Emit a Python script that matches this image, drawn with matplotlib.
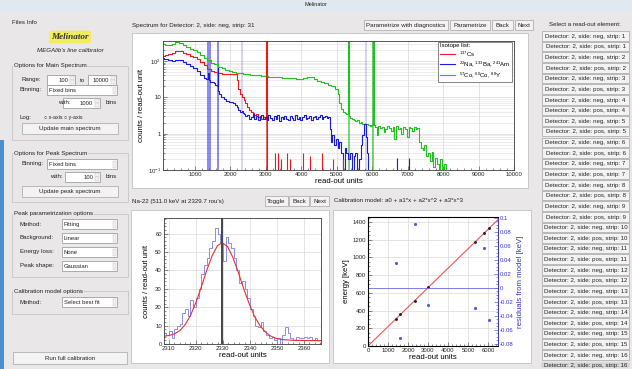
import matplotlib
matplotlib.use("Agg")
import matplotlib.pyplot as plt
from matplotlib.patches import Rectangle
from matplotlib.lines import Line2D
from matplotlib.ticker import (MultipleLocator, FixedLocator, FixedFormatter,
                               NullFormatter, FormatStrFormatter, LogLocator)

plt.rcParams["font.family"] = ["Liberation Sans", "DejaVu Sans"]
plt.rcParams["mathtext.default"] = "regular"

# ---------------- data: main spectrum (read-out units vs counts) ----------------
green_x = [100, 200, 300, 400, 500, 600, 700, 800, 900, 1000,
           1100, 1200, 1300, 1400, 1500, 1600, 1700, 1800, 1900, 2000,
           2100, 2200, 2300, 2400, 2500, 2600, 2700, 2800, 2900, 3000,
           3100, 3200, 3300, 3400, 3500, 3600, 3700, 3800, 3900, 4000,
           4100, 4200, 4300, 4400, 4500, 4600, 4700, 4800, 4900, 5000,
           5050, 5100, 5150, 5200, 5250, 5300, 5330, 5360, 5400, 5450,
           5500, 5550, 5600, 5650, 5700, 5750, 5800, 5850, 5900, 5950,
           6000, 6030, 6060, 6100, 6150, 6200, 6250, 6300, 6350, 6400,
           6450, 6500, 6550, 6600, 6650, 6700, 6750, 6800, 6850, 6900,
           6950, 7000, 7050, 7100, 7150, 7200, 7250, 7300, 7350, 7400,
           7450, 7500, 7550, 7600, 7650, 7700, 7750, 7800, 7850, 7900,
           7950, 8000, 8050, 8100, 8150]
green_y = [285, 270, 278, 292, 335, 310, 272, 242, 218, 196,
           172, 148, 124, 104, 90, 80, 70, 63, 58, 54,
           51, 48, 46, 45, 44, 42, 41, 40, 39, 38,
           37, 36, 36, 35, 34, 34, 33, 33, 32, 32,
           33, 35, 37, 31, 28, 26, 24, 22, 20, 17,
           12, 7, 4.8, 4.0, 3.7, 3.5, 3000, 3.0, 2.7, 2.5,
           2.4, 2.2, 2.3, 2.0, 2.1, 1.9, 1.8, 1.9, 1.7, 1.6,
           1.7, 3000, 1.7, 1.5, 0.9, 1.6, 1.4, 1.5, 1.1, 1.3,
           1.6, 1.4, 1.2, 1.5, 0.7, 1.6, 1.3, 1.4, 1.0, 1.5,
           1.3, 0.8, 1.5, 1.4, 1.2, 1.5, 1.3, 1.4, 0.6, 0.4,
           0.35, 0.5, 0.25, 0.3, 0.18, 0.32, 0.12, 0.22, 0.15, 0,
           0.2, 0, 0.15, 0, 0]

red_x = [100, 200, 300, 400, 500, 600, 700, 800, 900, 1000,
         1100, 1200, 1300, 1400, 1500, 1600, 1700, 1800, 1900, 2000,
         2100, 2150, 2200, 2250, 2300, 2350, 2400, 2450, 2500, 2550,
         2600, 2650, 2700, 2750, 2800, 2850, 2900, 2950, 2990, 3020,
         3050]
red_y = [140, 148, 155, 166, 182, 185, 170, 155, 140, 128,
         110, 92, 75, 60, 53, 49, 46, 45, 44, 44,
         45, 44, 30, 17, 12, 10, 8.5, 7, 5.5, 4.6,
         4.0, 3.6, 3.2, 3.5, 2.8, 3.1, 2.6, 2.9, 2.5, 3000,
         0]
red_spike_x = [3260, 3350, 3440, 3600, 3680, 4060, 4240, 4580, 4900, 5180]
red_spike_y = [0.3, 0.3, 0.2, 0.3, 0.2, 0.3, 0.25, 0.3, 0.2, 0.2]

blue_x = [100, 150, 200, 300, 400, 500, 600, 700, 800, 900,
          1000, 1100, 1200, 1300, 1350, 1380, 1410, 1450, 1500, 1550,
          1600, 1630, 1650, 1670, 1700, 1750, 1800, 1850, 1900, 1950,
          2000, 2050, 2100, 2150, 2200, 2250, 2300, 2330, 2360, 2400,
          2450, 2500, 2550, 2600, 2650, 2700, 2750, 2800, 2850, 2900,
          2950, 3000, 3050, 3100, 3150, 3200, 3250, 3300, 3350, 3400,
          3450, 3500, 3550, 3600, 3650, 3700, 3750, 3800, 3850, 3900,
          3950, 4000, 4050, 4100, 4150, 4200, 4250, 4300, 4350, 4400,
          4450, 4500, 4550, 4600, 4650, 4700, 4750, 4780, 4820, 4860,
          4900, 4950, 5000, 5050, 5100, 5150, 5200, 5250, 5300, 5350,
          5400, 5450, 5500, 5550, 5600, 5650, 5700, 5750, 5800, 5830,
          5860, 5900]
blue_y = [122, 110, 114, 104, 100, 107, 104, 94, 84, 72,
          62, 52, 42, 34, 31, 48, 29, 27, 26, 25,
          22, 20, 62, 15, 12, 10.5, 10, 9, 8, 7.8,
          7.5, 7.2, 6.8, 6.2, 5.5, 4.5, 3.9, 4.2, 3.6, 3.4,
          3.0, 3.3, 2.6, 2.9, 3.4, 2.5, 3.1, 2.4, 2.8, 3.3,
          2.5, 2.9, 2.3, 3.2, 2.7, 2.4, 3.0, 2.6, 3.3, 2.2,
          2.8, 2.5, 3.1, 2.6, 2.3, 3.0, 2.7, 2.4, 3.2, 2.6,
          2.9, 2.4, 2.8, 3.3, 2.5, 2.7, 3.0, 2.4, 2.9, 3.1,
          2.6, 2.8, 3.2, 2.5, 2.9, 3.0, 2.7, 2.8, 1.3, 0.6,
          0.9, 0.5, 0.7, 0.4, 0.6, 0.3, 0, 0.4, 0.3, 0.2,
          0.3, 0, 0.25, 0.3, 0, 0.2, 0.5, 0.9, 1.8, 0.8,
          0.3, 0]
blue_spike_x = [6700, 7050]
blue_spike_y = [0.22, 0.22]

# selected line windows (start, stop, isotope group)
band_lo = [1355, 1610, 2305, 2995, 5305, 5800, 6005]
band_hi = [1450, 1680, 2370, 3055, 5365, 5850, 6065]
band_grp = ["blue", "blue", "blue_light", "red", "green", "blue_light", "green"]

iso_labels = [r"$^{137}$Cs", r"$^{22}$Na, $^{133}$Ba, $^{241}$Am", r"$^{57}$Co, $^{60}$Co, $^{88}$Y"]

# ---------------- data: peak spectrum (Na-22, 511 keV) ----------------
peak_edges = list(range(2308, 2368))
peak_counts = [6, 5, 7, 3, 8, 10, 11, 17, 19, 15,
               24, 20, 25, 30, 38, 43, 47, 52, 56, 63,
               60, 55, 45, 58, 55, 52, 47, 40, 33, 34,
               30, 25, 19, 15, 10, 9, 12, 7, 5, 3,
               4, 2, 3, 0, 5, 9, 6, 3, 2, 4,
               3, 3, 4, 3, 4, 2, 3, 2, 2]
fit_x = [2308, 2310, 2312, 2314, 2316, 2318, 2320, 2322, 2324, 2326, 2328, 2329.7,
         2331.7, 2333.7, 2335.7, 2337.7, 2339.7, 2341.7, 2343.7, 2345.7, 2347.7,
         2349.7, 2352, 2356, 2360, 2367]
fit_y = [4.2, 4.6, 5.5, 7.2, 10.5, 15.5, 22.5, 31, 40, 48, 53.5, 55,
         53, 47, 39, 30, 22, 15, 10, 6.5, 4.3,
         3.0, 2.4, 2.0, 1.9, 1.8]
peak_pos = 2329.7

# ---------------- data: calibration ----------------
cal_rou = [1380, 1622, 2330, 3016, 5345, 5810, 6068]
cal_energy = [303, 356, 511, 662, 1173, 1275, 1332]
cal_resid = [0.035, -0.072, 0.092, -0.025, -0.028, 0.057, -0.046]
model_rou = [0, 6600]
model_energy = [0, 1449]

readout_labels = [f"Detector: 2, side: {side}, strip: {s}"
                  for s in range(1, 17) for side in ("neg", "pos")]

# ---------------- figure / GUI frame ----------------
W, H = 632, 369
BG = "#e9e7e7"
GUI_FS = 4.3
TICK_FS = 4.3
LAB_FS = 5.6
RED, BLUE, GREEN = "#f01818", "#1a1ae6", "#22c022"

fig = plt.figure(figsize=(W / 100, H / 100), dpi=100)
fig.patch.set_facecolor(BG)
gui = fig.add_axes([0, 0, 1, 1], zorder=0)
gui.set_xlim(0, W)
gui.set_ylim(H, 0)
gui.axis("off")


def add_ax(x0, y0, x1, y1):
    return fig.add_axes([x0 / W, 1 - y1 / H, (x1 - x0) / W, (y1 - y0) / H], zorder=2)


def box(x0, y0, x1, y1, fc, ec="none", lw=0.5, z=1):
    gui.add_patch(Rectangle((x0, y0), x1 - x0, y1 - y0, facecolor=fc,
                            edgecolor=ec, linewidth=lw, zorder=z))


def label(x, y, s, size=GUI_FS, ha="left", **kw):
    gui.text(x, y, s, fontsize=size, ha=ha, va="center", color="#222222", zorder=3, **kw)


def button(x0, y0, x1, y1, s, size=GUI_FS):
    box(x0, y0, x1, y1, "#f4f3f3", "#a4a4a4", 0.5)
    label((x0 + x1) / 2, (y0 + y1) / 2 + 0.3, s, size, ha="center")


def combo(x0, y0, x1, y1, s):
    box(x0, y0, x1, y1, "white", "#8f8f8f", 0.5)
    label(x0 + 2, (y0 + y1) / 2 + 0.3, s, 4.2)
    box(x1 - 4, y0 + 1.5, x1 - 1, y1 - 1.5, "#f2f2f2", "#bdbdbd", 0.3)


def spin(x0, y0, x1, y1, s):
    box(x0, y0, x1, y1, "white", "#8f8f8f", 0.5)
    label(x1 - 7, (y0 + y1) / 2 + 0.3, s, 4.2, ha="right")
    box(x1 - 5, y0 + 1, x1 - 1, (y0 + y1) / 2, "#f2f2f2", "#bdbdbd", 0.3)
    box(x1 - 5, (y0 + y1) / 2, x1 - 1, y1 - 1, "#f2f2f2", "#bdbdbd", 0.3)


def group(x0, y0, x1, y1, title):
    box(x0, y0, x1, y1, "none", "#c6c6c6", 0.6)
    gui.text(x0 + 2, y0, title, fontsize=4.4, ha="left", va="center", color="#222222",
             zorder=3, bbox=dict(facecolor=BG, edgecolor="none", pad=0.4))


# window chrome
box(0, 0, W, 12, "#e1e8ef")
box(0, 140, 4, H, "#4b8fd3")
label(316, 5, "Melinator", 4.0, ha="center")

# left control panel
label(12, 22, "Files Info", 4.4)
gui.text(70, 37, "Melinator", fontsize=6.6, ha="center", va="center", color="#333333",
         family="Liberation Serif", weight="bold", style="italic", zorder=3,
         bbox=dict(boxstyle="round,pad=0.25", facecolor="#f4ee4c", edgecolor="none", alpha=0.9))
label(70, 51, "MEGAlib's line calibrator", 4.4, ha="center", style="italic")

group(12, 66, 128, 140, "Options for Main Spectrum")
label(21, 80, "Range:", 4.4)
spin(47, 75, 75, 85, "100")
label(80, 80, "to", 4.4)
spin(88, 75, 116, 85, "10000")
label(20, 90, "Binning:", 4.4)
combo(47, 85, 117, 95, "Fixed bins")
label(58, 103, "with:", 4.4)
spin(63, 98, 100, 108, "1000")
label(106, 103, "bins", 4.4)
label(20, 117, "Log:", 4.4)
label(44, 117, "\u25cb x-axis \u25cb y-axis", 3.8)
button(22, 123, 118, 134, "Update main spectrum", 4.4)

group(12, 153, 128, 202, "Options for Peak Spectrum")
label(22, 164, "Binning:", 4.4)
combo(47, 159, 117, 169, "Fixed bins")
label(50, 177, "with:", 4.4)
spin(65, 172, 100, 182, "100")
label(106, 177, "bins", 4.4)
button(22, 186, 118, 197, "Update peak spectrum", 4.4)

group(12, 214, 128, 277, "Peak parametrization options")
for yy, name, val in [(224, "Method:", "Fitting"), (238, "Background:", "Linear"),
                      (252, "Energy loss:", "None"), (266, "Peak shape:", "Gaussian")]:
    label(20, yy, name, 4.4)
    combo(62, yy - 5, 117, yy + 5, val)

group(12, 291, 128, 314, "Calibration model options")
label(20, 302, "Method:", 4.4)
combo(62, 297, 117, 307, "Select best fit")
button(13, 352, 127, 364, "Run full calibration", 4.4)

# centre header rows and white panels
label(132, 25, "Spectrum for Detector: 2, side: neg, strip: 31", 4.5)
button(364, 20, 448, 30, "Parametrize with diagnostics", 4.5)
button(450, 20, 490, 30, "Parametrize", 4.5)
button(492, 20, 513, 30, "Back", 4.5)
button(515, 20, 533, 30, "Next", 4.5)
box(132, 33, 528, 188, "white", "#b8b8b8", 0.5)

label(132, 201, "Na-22 (511.0 keV at 2329.7 rou's)", 4.4)
button(265, 196, 288, 206, "Toggle", 4.5)
button(289, 196, 309, 206, "Back", 4.5)
button(310, 196, 329, 206, "Next", 4.5)
label(334, 201, "Calibration model: a0 + a1*x + a2*x^2 + a3*x^3", 4.4)
box(131, 210, 329, 363, "white", "#b8b8b8", 0.5)
box(333, 210, 531, 363, "white", "#b8b8b8", 0.5)

# right read-out element list
label(585, 25, "Select a read-out element:", 4.4, ha="center")
for i, txt in enumerate(readout_labels):
    yc = 36 + i * 10.63
    button(542, yc - 4.8, 629, yc + 4.8, txt, 4.4)
box(538, 361, 632, H, BG, z=2)
box(542, 363, 629, 367, "#dcdcdc", "#b0b0b0", 0.3, z=2)


def root_style(ax):
    ax.set_facecolor("white")
    for sp in ax.spines.values():
        sp.set_color("#3a3a3a")
        sp.set_linewidth(0.6)
    ax.tick_params(which="both", direction="in", color="#3a3a3a", width=0.4,
                   labelsize=TICK_FS, pad=1.5, labelcolor="#222222")
    ax.tick_params(which="major", length=3)
    ax.tick_params(which="minor", length=1.5)
    ax.set_axisbelow(True)


# ---------------- main spectrum ----------------
ax = add_ax(163, 41, 514, 170)
root_style(ax)
ax.set_yscale("log", nonpositive="clip")
ax.set_xlim(100, 10000)
ax.set_ylim(0.1, 353)
ax.grid(True, which="major", color="#d6d6d6", linewidth=0.5)
ax.grid(True, which="minor", axis="y", color="#dedede", linewidth=0.4)

band_colors = {"blue": (BLUE, 0.5), "blue_light": ("#6a6ae8", 0.28),
               "red": (RED, 0.6), "green": (GREEN, 0.6)}
for lo, hi, grp in zip(band_lo, band_hi, band_grp):
    c, a = band_colors[grp]
    ax.axvspan(lo, hi, color=c, alpha=a, linewidth=0)

ax.plot(green_x, green_y, drawstyle="steps-mid", color=GREEN, lw=0.8)
ax.plot(red_x, red_y, drawstyle="steps-mid", color=RED, lw=0.8)
ax.plot(blue_x, blue_y, drawstyle="steps-mid", color=BLUE, lw=0.8)
ax.vlines(red_spike_x, 0.1, red_spike_y, color=RED, lw=0.8)
ax.vlines(blue_spike_x, 0.1, blue_spike_y, color=BLUE, lw=0.8)

ax.xaxis.set_major_locator(MultipleLocator(1000))
ax.xaxis.set_minor_locator(MultipleLocator(200))
ax.yaxis.set_major_locator(FixedLocator([0.1, 1, 10, 100]))
ax.yaxis.set_major_formatter(FixedFormatter([r"$10^{-1}$", "1", "10", r"$10^{2}$"]))
ax.yaxis.set_minor_locator(LogLocator(subs=range(2, 10)))
ax.yaxis.set_minor_formatter(NullFormatter())
ax.set_xlabel("read-out units", fontsize=LAB_FS, labelpad=1)
ax.set_ylabel("counts / read-out unit", fontsize=LAB_FS, labelpad=2)

handles = [Line2D([], [], color=c, lw=0.8) for c in (RED, BLUE, GREEN)]
leg = ax.legend(handles, iso_labels, title="Isotope list:", loc="upper right",
                bbox_to_anchor=(0.995, 0.995), borderaxespad=0, fontsize=4.3,
                title_fontsize=4.3, fancybox=False, framealpha=1, edgecolor="#555555",
                handlelength=2.6, handletextpad=0.6, labelspacing=0.15,
                borderpad=0.3, alignment="left")
leg.get_frame().set_linewidth(0.5)

# ---------------- peak spectrum ----------------
axp = add_ax(164, 218, 321, 344)
root_style(axp)
axp.grid(True, which="major", color="#d9d9d9", linewidth=0.5)
axp.stairs(peak_counts, peak_edges, color="#8c8ce6", lw=0.7)
axp.plot(fit_x, fit_y, color="#e83030", lw=0.8)
axp.axvline(peak_pos, color="#454545", lw=1.4)
axp.set_xlim(2308.2, 2366.3)
axp.set_ylim(0, 68.5)
axp.xaxis.set_major_locator(MultipleLocator(10))
axp.xaxis.set_minor_locator(MultipleLocator(2))
axp.yaxis.set_major_locator(MultipleLocator(10))
axp.yaxis.set_minor_locator(MultipleLocator(2))
axp.set_xlabel("read-out units", fontsize=LAB_FS, labelpad=1)
axp.set_ylabel("counts / read-out unit", fontsize=LAB_FS, labelpad=4)

# ---------------- calibration ----------------
axc = add_ax(368, 217, 498, 346)
root_style(axc)
axc.grid(True, which="major", color="#d9d9d9", linewidth=0.5)
axc.plot(model_rou, model_energy, color="#ee5555", lw=0.8)
axc.plot(cal_rou, cal_energy, "o", color="#222222", ms=1.1)
axc.set_xlim(0, 6500)
axc.set_ylim(0, 1457)
axc.xaxis.set_major_locator(MultipleLocator(1000))
axc.xaxis.set_minor_locator(MultipleLocator(200))
axc.yaxis.set_major_locator(MultipleLocator(200))
axc.yaxis.set_minor_locator(MultipleLocator(50))
axc.set_xlabel("read-out units", fontsize=LAB_FS, labelpad=1)
axc.set_ylabel("energy [keV]", fontsize=LAB_FS, labelpad=2)

axr = axc.twinx()
axr.set_ylim(-0.083, 0.1014)
axr.axhline(0, color="#6a6ae0", lw=0.6)
axr.plot(cal_rou, cal_resid, "*", color="#5a5ae6", ms=1.8)
axr.yaxis.set_major_locator(MultipleLocator(0.02))
axr.yaxis.set_minor_locator(MultipleLocator(0.005))
axr.yaxis.set_major_formatter(FormatStrFormatter("%g"))
axr.tick_params(which="both", direction="in", color="#3333cc", width=0.4,
                labelsize=TICK_FS, pad=1.5, labelcolor="#3333cc")
axr.tick_params(which="major", length=3)
axr.tick_params(which="minor", length=1.5)
axr.spines["right"].set_color("#3333cc")
axr.spines["right"].set_linewidth(0.6)
axr.set_ylabel("residuals from model [keV]", fontsize=LAB_FS, color="#3333cc", labelpad=2)

fig.savefig("out.png", dpi=100, facecolor=BG)
